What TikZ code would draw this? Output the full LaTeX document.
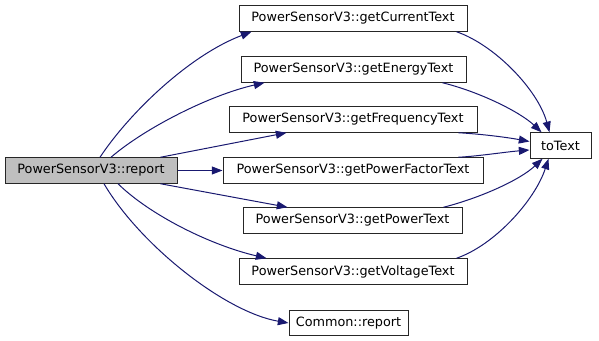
\documentclass[tikz,border=0pt]{standalone}
\usepackage{fontspec}
\setmainfont{DejaVu Sans}
\usetikzlibrary{arrows.meta,calc}
\definecolor{edgeblue}{HTML}{191970}
\definecolor{rootfill}{HTML}{BFBFBF}
\begin{document}
\begin{tikzpicture}[x=0.75pt,y=-0.75pt,
  fn/.style={draw=black!85, line width=0.75pt, fill=white, inner sep=0pt,
    minimum height=0.75pt*25.5, font=\fontsize{9.6pt}{11pt}\selectfont},
  wd/.style={minimum width=0.75pt*#1},
  root/.style={fill=rootfill},
  call/.style={draw=edgeblue, line width=0.75pt,
    -{Triangle[length=8pt,width=6pt]}}]
\useasboundingbox (0,0) rectangle (599,341);

% functions
\node[fn, root, wd=172] (rep)  at (91,170.5)   {PowerSensorV3::report};
\node[fn, wd=228] (cur)  at (353,18.5)  {PowerSensorV3::getCurrentText};
\node[fn, wd=225] (en)   at (353.5,69.5) {PowerSensorV3::getEnergyText};
\node[fn, wd=248] (freq) at (353,119.5) {PowerSensorV3::getFrequencyText};
\node[fn, wd=260] (pf)   at (353,170.5) {PowerSensorV3::getPowerFactorText};
\node[fn, wd=219] (pow)  at (352.5,220.5) {PowerSensorV3::getPowerText};
\node[fn, wd=228] (volt) at (353,271.5) {PowerSensorV3::getVoltageText};
\node[fn, wd=119] (com)  at (348.5,323) {Common::report};
\node[fn, wd=61]  (tt)   at (560.5,145.5) {toText};

% calls from report
\draw[call] ($(rep.north)+(9,0)$) .. controls (130,112) and (190,55) .. ($(cur.south west)+(13,0)$);
\draw[call] ($(rep.north)+(20,0)$) .. controls (145,128) and (210,95) .. ($(en.south west)+(24,0)$);
\draw[call] ($(rep.north east)+(-17,0)$) -- ($(freq.south west)+(58,0)$);
\draw[call] (rep.east) -- (pf.west);
\draw[call] ($(rep.south east)+(-17,0)$) -- ($(pow.north west)+(45,0)$);
\draw[call] ($(rep.south)+(27,0)$) .. controls (150,215) and (210,245) .. ($(volt.north west)+(28,0)$);
\draw[call] ($(rep.south)+(13,0)$) .. controls (140,245) and (225,312) .. (com.west);

% calls to toText
\draw[call] ($(cur.south east)+(-11,0)$) .. controls (495,45) and (538,90) .. ($(tt.north)+(-11,0)$);
\draw[call] ($(en.south east)+(-24,0)$) .. controls (480,92) and (520,112) .. ($(tt.north west)+(12,0)$);
\draw[call] ($(freq.south east)+(-19,0)$) .. controls (480,134) and (505,137) .. ($(tt.west)+(0,-4)$);
\draw[call] ($(pf.north east)+(-25,0)$) .. controls (480,156) and (505,152) .. ($(tt.west)+(0,4.5)$);
\draw[call] ($(pow.north east)+(-19,0)$) .. controls (480,198) and (520,180) .. ($(tt.south west)+(13,0)$);
\draw[call] ($(volt.north east)+(-11,0)$) .. controls (495,245) and (535,200) .. ($(tt.south)+(-12,0)$);
\end{tikzpicture}
\end{document}
